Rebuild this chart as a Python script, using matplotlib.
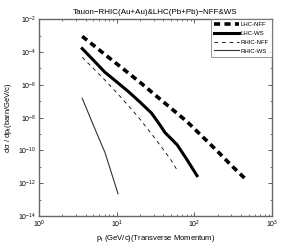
import matplotlib
matplotlib.use("Agg")
import matplotlib.pyplot as plt
from matplotlib.ticker import LogLocator, NullFormatter

plt.rcParams['font.family'] = ['Liberation Sans', 'DejaVu Sans']
plt.rcParams['mathtext.fontset'] = 'custom'
plt.rcParams['mathtext.rm'] = 'Liberation Sans'
plt.rcParams['mathtext.it'] = 'Liberation Sans'

# values (pt in GeV/c, dsigma/dpt in barn/GeV/c)
lhc_nff_pt = [3.6, 5, 7, 10, 20, 30, 50, 80, 120, 200, 300, 450]
lhc_nff = [8.9e-4, 2.6e-4, 7.2e-5, 1.9e-5, 1.4e-6, 2.8e-7, 3.7e-8, 5.8e-9,
           9e-10, 8.5e-11, 1.2e-11, 1.9e-12]

lhc_ws_pt = [3.6, 5, 7, 10, 14, 20, 28, 35, 42, 60, 80, 108]
lhc_ws = [1.6e-4, 3.2e-5, 6.0e-6, 1.5e-6, 4.0e-7, 8.7e-8, 1.9e-8, 4.3e-9,
          1.2e-9, 2.2e-10, 2.8e-11, 2.9e-12]

rhic_nff_pt = [3.6, 5, 7, 10, 15, 20, 30, 40, 50, 60]
rhic_nff = [4.7e-5, 1e-5, 2e-6, 3.3e-7, 3.9e-8, 7.8e-9, 6.8e-10, 1.1e-10,
            2.6e-11, 6.3e-12]

rhic_ws_pt = [3.6, 5, 7.07, 10.4]
rhic_ws = [1.5e-7, 3.5e-9, 7.4e-11, 2.3e-13]

fig = plt.figure(figsize=(3.0, 2.45), dpi=100)
ax = fig.add_axes([0.13, 0.118, 0.777, 0.804])

ax.loglog(lhc_nff_pt, lhc_nff, 'k--', lw=2.6, dashes=(1.7, 1.2), label='LHC-NFF')
ax.loglog(lhc_ws_pt, lhc_ws, 'k-', lw=2.2, label='LHC-WS')
ax.loglog(rhic_nff_pt, rhic_nff, 'k--', lw=0.6, dashes=(4.5, 4.5), label='RHIC-NFF')
ax.loglog(rhic_ws_pt, rhic_ws, color='#333333', lw=0.8, label='RHIC-WS')

ax.set_xlim(1, 1000)
ax.set_ylim(1e-14, 1e-2)
ax.set_yticks([1e-14, 1e-12, 1e-10, 1e-8, 1e-6, 1e-4, 1e-2])
ax.yaxis.set_minor_locator(LogLocator(base=10, subs=(1.0,), numticks=20))
ax.yaxis.set_minor_formatter(NullFormatter())
ax.xaxis.set_minor_locator(LogLocator(base=10, subs=range(2, 10), numticks=20))

ax.tick_params(which='both', direction='in', top=True, right=True,
               labelsize=5, colors='#444444', labelcolor='black', pad=2)
ax.tick_params(which='major', length=3, width=0.6)
ax.tick_params(which='minor', length=1.5, width=0.5)
for s in ax.spines.values():
    s.set_color('#666666')
    s.set_linewidth(1.0)

ax.set_title('Tauon\u2212RHIC(Au+Au)&LHC(Pb+Pb)\u2212NFF&WS', fontsize=5.8, pad=4)
ax.set_xlabel('p$_t$ (GeV/c)(Transverse Momentum)', fontsize=5.5, labelpad=2)
ax.set_ylabel('d\u03c3 / dp$_t$(barn/GeV/c)', fontsize=5.5, labelpad=3)

leg = ax.legend(loc='upper right', fontsize=4.3, frameon=True, fancybox=False,
                borderaxespad=0, handlelength=4.2, labelspacing=0.6,
                borderpad=0.5, handletextpad=0.3)
leg.get_frame().set_edgecolor('#666666')
leg.get_frame().set_linewidth(0.6)

fig.savefig('out.png', dpi=100)
